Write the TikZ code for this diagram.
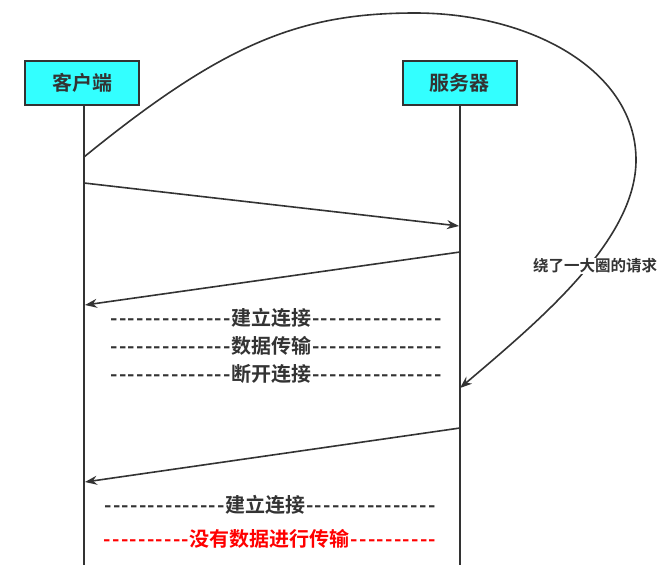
\documentclass[tikz,border=0pt]{standalone}
\usepackage{fontspec}
\newfontfamily\cjk{Noto Sans CJK SC}[BoldFont={Noto Sans CJK SC Bold}]
\usetikzlibrary{arrows.meta}
\definecolor{boxcyan}{HTML}{33FFFF}
\definecolor{ink}{HTML}{333333}
\newcommand\onehy{\makebox[8.7pt]{-}}
\newcommand\hys[1]{\foreach \i in {1,...,#1}{\onehy}}
\tikzset{
  actor/.style={draw=ink, line width=2pt, fill=boxcyan, minimum width=114pt, minimum height=44pt, inner sep=0pt, font=\cjk\bfseries\fontsize{20}{22}\selectfont, text=ink},
  life/.style={draw=ink, line width=1.8pt},
  msg/.style={draw=ink, line width=1.6pt, -{Stealth[length=12pt,width=9pt]}},
  phase/.style={font=\cjk\bfseries\fontsize{20}{22}\selectfont, text=ink, inner sep=0pt},
}
\begin{document}
\begin{tikzpicture}[x=1pt,y=-1pt]
\useasboundingbox (0,0) rectangle (663,565);
\node[actor] (client) at (82,83) {客户端};
\node[actor] (server) at (459.5,83) {服务器};
\coordinate (cb) at (84,565);
\coordinate (sb) at (460,565);
\draw[life] (client.south -| cb) -- (cb);
\draw[life] (server.south -| sb) -- (sb);
% messages
\coordinate (m1s) at (84,183); \coordinate (m1e) at (459,226);
\coordinate (m2s) at (460,252); \coordinate (m2e) at (85,305);
\coordinate (m3s) at (460,428); \coordinate (m3e) at (85,482);
\coordinate (cs) at (84,157); \coordinate (ce) at (460,388);
\draw[msg] (m1s) -- (m1e);
\draw[msg] (m2s) -- (m2e);
\draw[msg] (m3s) -- (m3e);
\draw[msg] (cs) .. controls (224,43) and (300,13) .. (415,13)
  .. controls (530,13) and (636,70) .. (636,160)
  .. controls (636,240) and (540,320) .. (ce);
\node[fill=white, inner sep=1pt, font=\cjk\bfseries\fontsize{15.5}{17}\selectfont, text=ink] (lbl) at (595,266) {绕了一大圈的请求};
% phase labels
\node[phase] (p1) at (276,318) {\hys{14}建立连接\hys{15}};
\node[phase] (p2) at (276,346) {\hys{14}数据传输\hys{15}};
\node[phase] (p3) at (276,374) {\hys{14}断开连接\hys{15}};
\node[phase] (p4) at (270,505) {\hys{14}建立连接\hys{15}};
\node[phase, text=red] (p5) at (270,539) {\hys{10}没有数据进行传输\hys{10}};
\end{tikzpicture}
\end{document}
